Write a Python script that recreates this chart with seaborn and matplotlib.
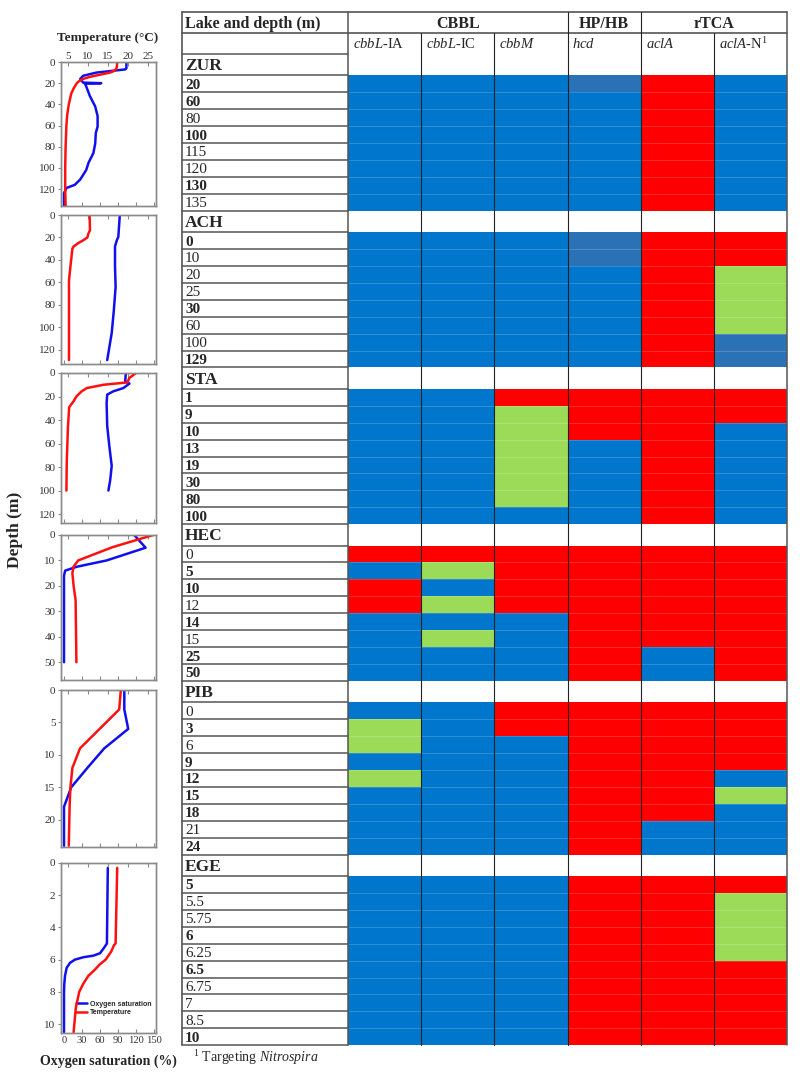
import numpy as np
import pandas as pd
import matplotlib
matplotlib.use("Agg")
import matplotlib.pyplot as plt
from matplotlib.colors import ListedColormap
from matplotlib.lines import Line2D
import seaborn as sns

sns.set_theme(style="white")
plt.rcParams['font.family'] = ['Liberation Serif', 'DejaVu Serif']
plt.rcParams['mathtext.fontset'] = 'custom'
plt.rcParams['mathtext.rm'] = 'Liberation Serif'
plt.rcParams['mathtext.it'] = 'Liberation Serif:italic'
plt.rcParams['mathtext.bf'] = 'Liberation Serif:bold'

# ------------------------------------------------------------------ data
genes = [r"$\mathit{cbbL}$-IA", r"$\mathit{cbbL}$-IC", r"$\mathit{cbbM}$",
         r"$\mathit{hcd}$", r"$\mathit{aclA}$", r"$\mathit{aclA}$-N$^{1}$"]
groups = ["CBBL", "HP/HB", "rTCA"]
group_span = [3, 1, 2]
lakes = ["ZUR", "ACH", "STA", "HEC", "PIB", "EGE"]

# status codes per gene column: B = blue, R = red, G = green, D = darker blue
zur_depths = ["20", "60", "80", "100", "115", "120", "130", "135"]
zur_bold = [1, 1, 0, 1, 0, 0, 1, 0]
zur_cells = ["BBBDRB", "BBBBRB", "BBBBRB", "BBBBRB", "BBBBRB", "BBBBRB", "BBBBRB", "BBBBRB"]

ach_depths = ["0", "10", "20", "25", "30", "60", "100", "129"]
ach_bold = [1, 0, 0, 0, 1, 0, 0, 1]
ach_cells = ["BBBDRR", "BBBDRR", "BBBBRG", "BBBBRG", "BBBBRG", "BBBBRG", "BBBBRD", "BBBBRD"]

sta_depths = ["1", "9", "10", "13", "19", "30", "80", "100"]
sta_bold = [1, 1, 1, 1, 1, 1, 1, 1]
sta_cells = ["BBRRRR", "BBGRRR", "BBGRRB", "BBGBRB", "BBGBRB", "BBGBRB", "BBGBRB", "BBBBRB"]

hec_depths = ["0", "5", "10", "12", "14", "15", "25", "50"]
hec_bold = [0, 1, 1, 0, 1, 0, 1, 1]
hec_cells = ["RRRRRR", "BGRRRR", "RBRRRR", "RGRRRR", "BBBRRR", "BGBRRR", "BBBRBR", "BBBRBR"]

pib_depths = ["0", "3", "6", "9", "12", "15", "18", "21", "24"]
pib_bold = [0, 1, 0, 1, 1, 1, 1, 0, 1]
pib_cells = ["BBRRRR", "GBRRRR", "GBBRRR", "BBBRRR", "GBBRRB", "BBBRRG", "BBBRRB", "BBBRBB", "BBBRBB"]

ege_depths = ["5", "5.5", "5.75", "6", "6.25", "6.5", "6.75", "7", "8.5", "10"]
ege_bold = [1, 0, 0, 1, 0, 1, 0, 0, 0, 1]
ege_cells = ["BBBRRR", "BBBRRG", "BBBRRG", "BBBRRG", "BBBRRG", "BBBRRR", "BBBRRR", "BBBRRR", "BBBRRR", "BBBRRR"]

# profiles: (depth m, temperature degC) and (depth m, oxygen saturation %)
zur_t_depth = [0, 5, 8, 10, 12, 14, 16, 18, 20, 25, 30, 40, 50, 60, 80, 100, 120, 136]
zur_temp = [17.3, 17.2, 16.8, 15.5, 13.0, 10.5, 8.8, 7.8, 7.2, 6.4, 5.8, 5.2, 4.8, 4.6, 4.4, 4.3, 4.3, 4.4]
zur_o_depth = [0, 6, 7, 10, 13, 16, 19.5, 20, 20.5, 23, 32, 42, 51, 61, 67, 77, 86, 95, 102, 111, 116, 119, 124, 136]
zur_o2 = [104, 104, 102, 54, 32, 27, 32, 62, 35, 37, 43, 52, 56, 56, 53, 52, 49, 41, 37, 27, 18, 4, 0, 0]

ach_t_depth = [0, 13.6, 16.5, 20, 22.5, 25, 28, 30, 46, 58, 129]
ach_temp = [10.4, 10.5, 10.1, 9.85, 8.8, 7.55, 6.4, 6.1, 5.6, 5.25, 5.25]
ach_o_depth = [0, 19.5, 22.5, 28, 46, 64, 85, 105, 129]
ach_o2 = [93, 90.5, 88, 85, 85, 86, 83, 79.5, 72]

sta_t_depth = [0, 4.3, 8, 10, 12.8, 15.6, 20, 24, 29, 45, 74, 100]
sta_temp = [22.0, 20.3, 19.9, 13.9, 9.7, 8.4, 7.1, 6.4, 5.3, 5.0, 4.7, 4.6]
sta_o_depth = [0, 7, 9, 12.8, 15.6, 18.4, 25.5, 45, 62, 79, 91, 100]
sta_o2 = [103, 102, 109, 99, 82, 72, 71, 72, 75.5, 79.5, 77, 74]

hec_t_depth = [0, 4.8, 10, 12.4, 15, 20, 25.5, 50]
hec_temp = [26.3, 16.1, 7.55, 6.4, 6.1, 6.4, 6.9, 7.1]
hec_o_depth = [0, 5, 10, 12.5, 14, 16, 50]
hec_o2 = [117, 136, 71, 21, 2, 0, 0]

pib_t_depth = [0, 3, 9, 12, 15, 18, 24]
pib_temp = [18.2, 17.8, 8.0, 6.1, 5.6, 5.4, 5.2]
pib_o_depth = [0, 3, 6, 9, 12, 15, 18, 24]
pib_o2 = [100.5, 100.5, 107, 67, 39, 12, 0, 0]

ege_t_depth = [0.3, 5.0, 5.1, 5.5, 6.0, 6.3, 6.6, 7.0, 7.5, 8.0, 9.0, 10.5]
ege_temp = [17.3, 16.9, 16.5, 15.8, 14.4, 12.9, 11.8, 10.1, 8.8, 7.8, 6.95, 6.4]
ege_o_depth = [0.3, 5.0, 5.3, 5.6, 5.75, 5.85, 6.0, 6.2, 6.5, 7.0, 7.5, 8.0, 10.5]
ege_o2 = [73, 71.5, 66, 60, 49, 32, 18, 10, 4.5, 1.7, 0.5, 0, 0]

o2_ticks = [0, 30, 60, 90, 120, 150]
temp_ticks = [5, 10, 15, 20, 25]

# ------------------------------------------------------------------ layout
W, H = 800, 1082
fig = plt.figure(figsize=(8, 10.82), dpi=100)


def px_axes(x0, y0, x1, y1):
    return fig.add_axes([x0 / W, 1 - y1 / H, (x1 - x0) / W, (y1 - y0) / H])


BLUE, RED, GREEN, DBLUE = "#0077CC", "#FF0000", "#9BDB57", "#2A72B5"
cmap = ListedColormap([BLUE, RED, GREEN, DBLUE])
code_map = {"B": 0, "R": 1, "G": 2, "D": 3}

lake_depths = [zur_depths, ach_depths, sta_depths, hec_depths, pib_depths, ege_depths]
lake_bold = [zur_bold, ach_bold, sta_bold, hec_bold, pib_bold, ege_bold]
lake_cells = [zur_cells, ach_cells, sta_cells, hec_cells, pib_cells, ege_cells]
profiles = [
    (zur_t_depth, zur_temp, zur_o_depth, zur_o2),
    (ach_t_depth, ach_temp, ach_o_depth, ach_o2),
    (sta_t_depth, sta_temp, sta_o_depth, sta_o2),
    (hec_t_depth, hec_temp, hec_o_depth, hec_o2),
    (pib_t_depth, pib_temp, pib_o_depth, pib_o2),
    (ege_t_depth, ege_temp, ege_o_depth, ege_o2),
]

# ---- profile panels
panel_px = [(62, 206), (215, 364), (373, 523), (535, 680), (690, 847), (863, 1033)]
panel_ylim = [136, 132.5, 127.6, 57, 24.2, 10.55]
panel_step = [20, 20, 20, 10, 5, 2]
PX0, PX1 = 61, 156
SPINE = "#8a8a8a"
TICKC = "#333333"
for i, ((y0, y1), ylim, step, prof) in enumerate(zip(panel_px, panel_ylim, panel_step, profiles)):
    td, tv, od, ov = prof
    ax = px_axes(PX0, y0, PX1, y1)
    ax2 = ax.twiny()
    sns.lineplot(x=ov, y=od, ax=ax, color="#1010EE", lw=1.8, sort=False, estimator=None)
    sns.lineplot(x=tv, y=td, ax=ax2, color="#FF1010", lw=1.8, sort=False, estimator=None)
    ax.set_xlim(-5, 153.3)
    ax2.set_xlim(3.25, 27.0)
    ax.set_ylim(ylim, 0)
    ax.set_xticks(o2_ticks)
    ax2.set_xticks(temp_ticks)
    ax.set_yticks(np.arange(0, ylim + 0.01, step))
    ax.set_xlabel("")
    ax.set_ylabel("")
    ax2.set_xlabel("")
    ax.tick_params(axis="x", direction="in", length=3, width=0.8, bottom=True, top=False,
                   labelbottom=(i == 5), labelsize=7.6, color=SPINE, labelcolor=TICKC, pad=2)
    ax2.tick_params(axis="x", direction="in", length=3, width=0.8, top=True, bottom=False,
                    labeltop=(i == 0), labelbottom=False, labelsize=8, color=SPINE,
                    labelcolor=TICKC, pad=1)
    ax.tick_params(axis="y", direction="out", length=2, width=0.8, left=True,
                   labelsize=8, color=SPINE, labelcolor=TICKC, pad=2)
    for a in (ax, ax2):
        for s in a.spines.values():
            s.set_color(SPINE)
            s.set_linewidth(1.0)
    if i == 5:
        handles = [Line2D([], [], color="#1010EE", lw=1.8), Line2D([], [], color="#FF1010", lw=1.8)]
        ax.legend(handles, ["Oxygen saturation", "Temperature"], loc="lower right",
                  frameon=False, prop={"family": "Liberation Sans", "weight": "bold", "size": 5},
                  handlelength=1.6, borderaxespad=0.3, labelspacing=0.25, handletextpad=0.4,
                  bbox_to_anchor=(1.0, 0.07))

fig.text(108 / W, 1 - 38 / H, "Temperature (°C)", ha="center", va="center",
         fontsize=9.5, fontweight="bold")
fig.text(15 / W, 1 - 530 / H, "Depth (m)", ha="center", va="center", rotation=90,
         fontsize=12.5, fontweight="bold")
fig.text(108 / W, 1 - 1061 / H, "Oxygen saturation (%)", ha="center", va="center",
         fontsize=10, fontweight="bold")

# ---- table geometry
TX0, LBL_R, TX1 = 182, 348, 787
COL_W = (TX1 - LBL_R) / 6
TY0, HDR_H, LAKE_H, ROW_H = 12, 21, 21.3, 16.93

rows_y = []  # (y_top, y_bottom, text, bold, is_lake)
y = TY0 + 2 * HDR_H
blocks = []
for lake, depths, bolds, cells in zip(lakes, lake_depths, lake_bold, lake_cells):
    rows_y.append((y, y + LAKE_H, lake, True, True))
    y += LAKE_H
    start = y
    for d, b in zip(depths, bolds):
        rows_y.append((y, y + ROW_H, d, bool(b), False))
        y += ROW_H
    blocks.append((start, y, cells))
TY1 = y

# heatmaps for each lake block
for start, end, cells in blocks:
    mat = pd.DataFrame([[code_map[c] for c in row] for row in cells], columns=genes)
    axh = px_axes(LBL_R, start, TX1, end)
    sns.heatmap(mat, ax=axh, cmap=cmap, vmin=-0.5, vmax=3.5, cbar=False,
                xticklabels=False, yticklabels=False, linewidths=0)
    axh.hlines(np.arange(1, len(cells)), 0, 6, color="white", alpha=0.18, lw=0.7)
    axh.axis("off")

# overlay for lines and text
ov = fig.add_axes([0, 0, 1, 1])
ov.set_xlim(0, W)
ov.set_ylim(H, 0)
ov.axis("off")
ov.patch.set_alpha(0)

LC = "#555555"
# outer borders
ov.plot([TX0, TX1], [TY0, TY0], color=LC, lw=1.2)
ov.plot([TX0, TX1], [TY0 + HDR_H, TY0 + HDR_H], color=LC, lw=1.2)
ov.plot([TX0, TX0], [TY0, TY1], color=LC, lw=1.2)
ov.plot([LBL_R, LBL_R], [TY0, TY1], color=LC, lw=1.1)
ov.plot([TX1, TX1], [TY0, TY1], color=LC, lw=1.1)
# label column horizontal lines
ov.plot([TX0, LBL_R], [TY0 + 2 * HDR_H] * 2, color=LC, lw=1.1)
for (yt, yb, txt, bold, is_lake) in rows_y:
    ov.plot([TX0, LBL_R], [yb, yb], color=LC, lw=1.1)
# column separators
for k in range(1, 6):
    xk = LBL_R + k * COL_W
    ytop = TY0 if k in (3, 4) else TY0 + HDR_H
    ov.plot([xk, xk], [ytop, TY1], color="#222222", lw=0.8)

# header text
ov.text(TX0 + 3, TY0 + HDR_H / 2 + 1, "Lake and depth (m)", ha="left", va="center",
        fontsize=11.5, fontweight="bold")
c = 0
for g, span in zip(groups, group_span):
    xc = LBL_R + (c + span / 2) * COL_W
    ov.text(xc, TY0 + HDR_H / 2 + 1, g, ha="center", va="center", fontsize=11.5, fontweight="bold")
    c += span
for k, gname in enumerate(genes):
    ov.text(LBL_R + k * COL_W + 5, TY0 + HDR_H * 1.5 + 1, gname, ha="left", va="center",
            fontsize=10.5)

# row labels
for (yt, yb, txt, bold, is_lake) in rows_y:
    ov.text(TX0 + 3, (yt + yb) / 2 + 1.5, txt, ha="left", va="center",
            fontsize=12.5 if is_lake else 11, fontweight="bold" if bold else "normal")

# footnote
ov.text(TX0 + 11, TY1 + 12, r"$^{1}$ Targeting $\mathit{Nitrospira}$", ha="left", va="center",
        fontsize=10)

fig.savefig("out.png", dpi=100)
